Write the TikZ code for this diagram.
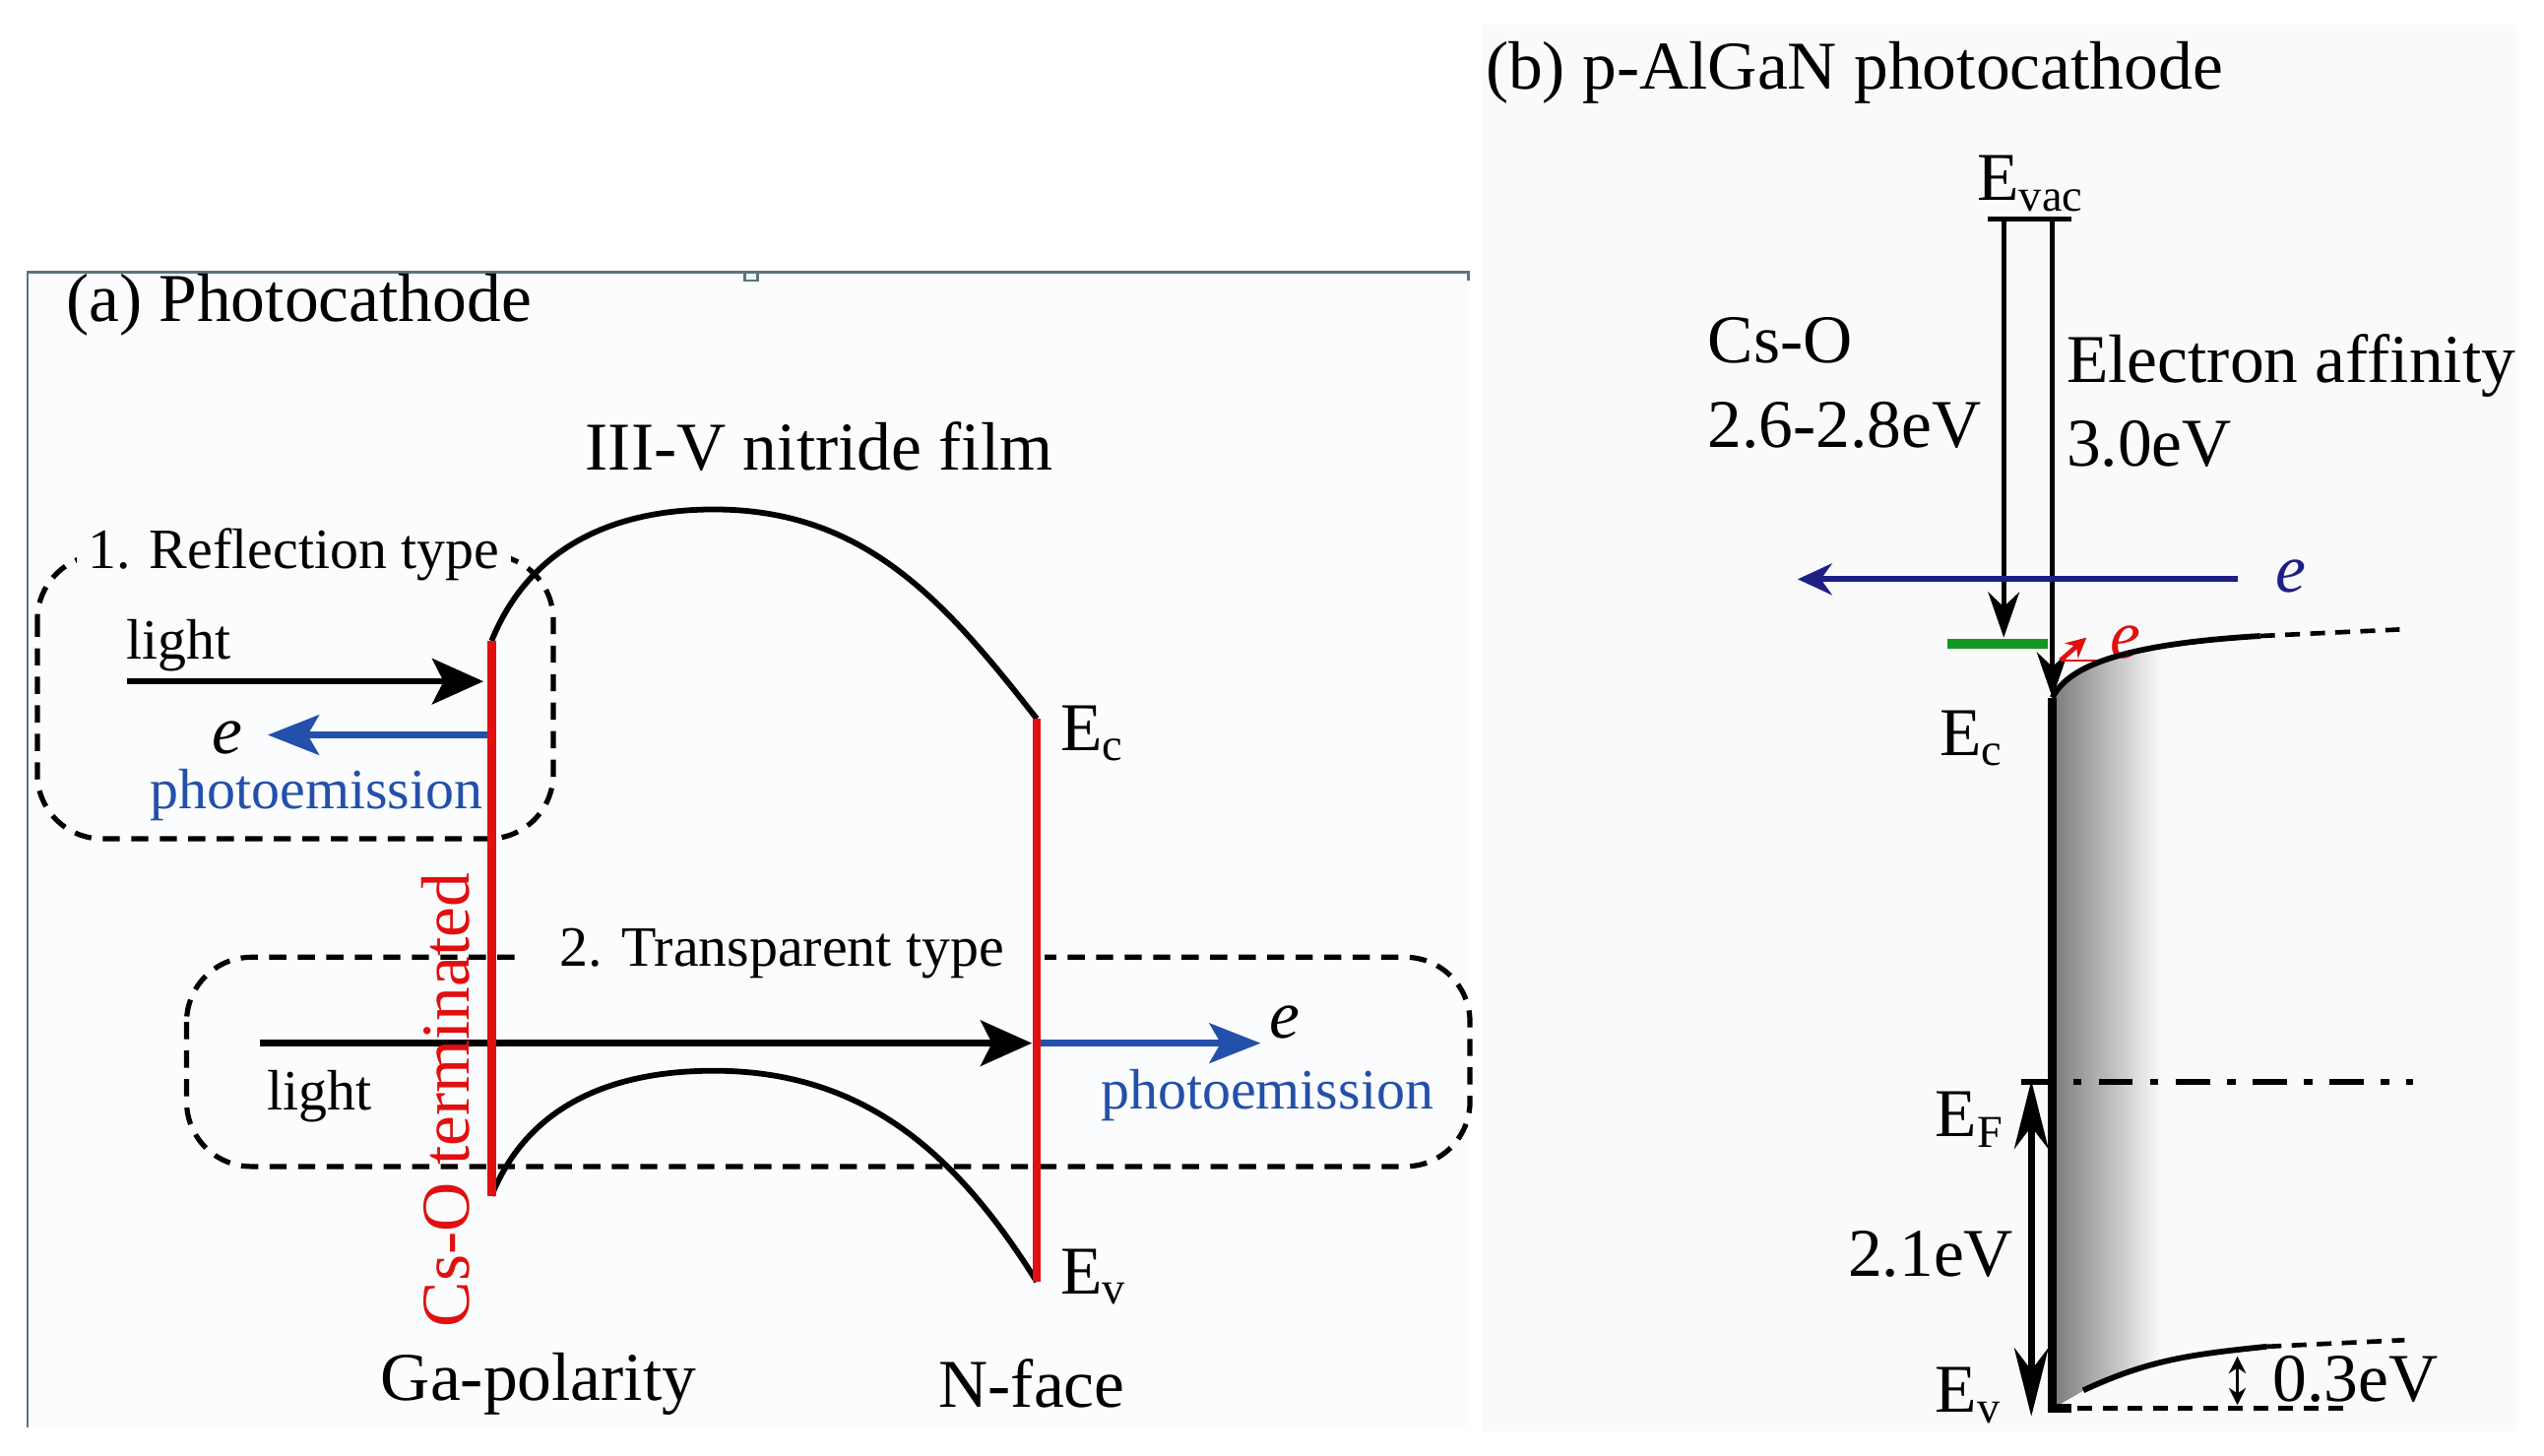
\documentclass[tikz,border=0pt]{standalone}
\usepackage{fontspec}
\setmainfont{Liberation Serif}
\usepackage{xcolor}
\usetikzlibrary{arrows.meta,positioning,calc}
\definecolor{framegray}{RGB}{95,115,125}
\definecolor{panelbg}{RGB}{251,252,253}
\definecolor{emblue}{RGB}{35,80,170}
\definecolor{navyblue}{RGB}{30,30,135}
\definecolor{termred}{RGB}{225,15,15}
\definecolor{levelgreen}{RGB}{20,150,35}

\begin{document}
\begin{tikzpicture}[
  big/.style={font=\fontsize{12}{14.8}\selectfont,inner sep=0pt},
  small/.style={font=\fontsize{10}{12}\selectfont,inner sep=0pt},
  elec/.style={font=\fontsize{12}{14}\selectfont\itshape,inner sep=0pt},
  band/.style={line width=1pt},
  interface/.style={line width=1.5pt,color=termred},
  typebox/.style={dash pattern=on 3pt off 2pt,line width=0.9pt,rounded corners=0.4cm},
  typelabel/.style={small,fill=panelbg,inner xsep=2pt,inner ysep=1pt},
  light/.style={-{Stealth[length=9pt,width=8pt,inset=2pt]},line width=1.1pt},
  emit/.style={-{Stealth[length=9pt,width=7pt,inset=2pt]},line width=1.1pt,color=emblue},
  thinarrow/.style={-{Stealth[length=8pt,width=5.5pt]},line width=0.8pt},
  level/.style={dash pattern=on 2.6pt off 1.8pt,line width=0.8pt},
  fermi/.style={dash pattern=on 6pt off 3pt on 1.5pt off 3pt,line width=1pt}
]
\useasboundingbox (0,0) rectangle (15.68,-8.97);

\fill[panelbg] (0.17,-1.68) rectangle (9.05,-8.80);
\fill[black!2] (9.13,-0.15) rectangle (15.51,-8.82);
\draw[framegray,line width=0.5pt] (0.17,-8.80) -- (0.17,-1.68) -- (9.05,-1.68) -- ++(0,-0.05);
\draw[framegray,line width=0.4pt,fill=cyan!8] (4.59,-1.68) rectangle (4.67,-1.73);

\node[big,anchor=west] (titleA) at (0.40,-1.88) {(a) Photocathode};
\node[big] (film) at (5.05,-2.75) {III-V nitride film};

\draw[typebox] (0.23,-3.42) rectangle (3.41,-5.17);
\node[typelabel] (reflType) at (1.81,-3.42) {1. Reflection type};
\draw[typebox] (1.15,-5.90) rectangle (9.06,-7.19);
\node[typelabel,inner xsep=0.25cm] (transType) at (4.82,-5.88) {2. Transparent type};

\coordinate (gaTop) at (3.03,-3.95);
\coordinate (gaBot) at (3.03,-7.37);
\coordinate (nTop) at (6.39,-4.43);
\coordinate (nBot) at (6.39,-7.90);
\coordinate (ecPeak) at (4.40,-3.14);
\coordinate (evPeak) at (4.40,-6.60);

\draw[band] (gaTop) to[out=68,in=180] (ecPeak) to[out=0,in=128] (nTop);
\draw[band] (gaBot) to[out=68,in=180] (evPeak) to[out=0,in=122] (nBot);

\coordinate (lightOne) at (0.78,-4.20);
\coordinate (lightOneEnd) at (2.98,-4.20);
\coordinate (emitOne) at (3.03,-4.53);
\coordinate (emitOneEnd) at (1.65,-4.53);
\coordinate (lightTwo) at (1.60,-6.43);
\coordinate (lightTwoEnd) at (6.36,-6.43);
\coordinate (emitTwo) at (6.39,-6.43);
\coordinate (emitTwoEnd) at (7.77,-6.43);

\draw[light] (lightOne) -- (lightOneEnd);
\draw[emit] (emitOne) -- (emitOneEnd);
\draw[light] (lightTwo) -- (lightTwoEnd);
\draw[emit] (emitTwo) -- (emitTwoEnd);

\node[small] (lightTxtOne) at (1.10,-3.98) {light};
\node[elec] (eOne) at (1.40,-4.55) {e};
\node[small,text=emblue] (photoOne) at (1.95,-4.90) {photoemission};
\node[small] (lightTxtTwo) at (1.97,-6.76) {light};
\node[elec] (eTwo) at (7.92,-6.30) {e};
\node[small,text=emblue] (photoTwo) at (7.81,-6.75) {photoemission};

\node[big,rotate=90,text=termred] (csoTerm) at (2.75,-6.78) {Cs-O terminated};
\draw[interface] (gaTop) -- (gaBot);
\draw[interface] (nTop) -- (nBot);

\node[big,anchor=west] (ecA) at (6.53,-4.52) {E\textsubscript{c}};
\node[big,anchor=west] (evA) at (6.53,-7.87) {E\textsubscript{v}};
\node[big] (gaPol) at (3.32,-8.53) {Ga-polarity};
\node[big] (nFace) at (6.36,-8.53) {N-face};

\node[big,anchor=west] (titleB) at (9.15,-0.45) {(b) p-AlGaN photocathode};
\node[big,anchor=south] (evac) at (12.52,-1.31) {E\textsubscript{vac}};
\coordinate (vacL) at (12.25,-1.35);
\coordinate (vacR) at (12.77,-1.35);
\coordinate (csTop) at (12.35,-1.35);
\coordinate (csEnd) at (12.35,-3.93);
\coordinate (eaTop) at (12.65,-1.35);
\coordinate (surfTop) at (12.65,-4.30);
\coordinate (surfBot) at (12.65,-8.68);
\coordinate (cbEnd) at (13.93,-3.92);
\coordinate (cbFar) at (14.79,-3.88);
\coordinate (vbStart) at (12.84,-8.57);
\coordinate (vbEnd) at (13.97,-8.30);
\coordinate (vbFar) at (14.82,-8.26);
\coordinate (bulkEv) at (14.44,-8.68);

\begin{scope}
  \clip (surfTop) .. controls (12.75,-4.10) and (13.10,-3.97) .. (cbEnd) -- (vbEnd) to[out=186,in=25] (vbStart) -- (surfBot) -- cycle;
  \fill[left color=black!52,right color=black!2] (12.65,-3.8) rectangle (13.32,-8.75);
\end{scope}

\draw[line width=0.8pt] (vacL) -- (vacR);
\draw[thinarrow] (csTop) -- (csEnd);
\draw[thinarrow] (eaTop) -- (surfTop);
\node[big,anchor=west,align=left] (csoB) at (10.52,-2.36) {Cs-O\\2.6-2.8eV};
\node[big,anchor=west,align=left] (affinity) at (12.73,-2.47) {Electron affinity\\3.0eV};

\coordinate (emitB) at (13.79,-3.57);
\coordinate (emitBEnd) at (11.08,-3.57);
\draw[-{Stealth[length=6pt,width=5.5pt]},line width=1pt,navyblue] (emitB) -- (emitBEnd);
\node[elec,text=navyblue] (eB) at (14.12,-3.55) {e};

\coordinate (greenL) at (12.00,-3.97);
\coordinate (greenR) at (12.62,-3.97);
\draw[levelgreen,line width=1.8pt] (greenL) -- (greenR);
\coordinate (hopStart) at (12.70,-4.07);
\coordinate (hopEnd) at (12.86,-3.93);
\draw[termred,line width=0.4pt] (hopStart) -- (13.00,-4.07);
\draw[termred,line width=0.8pt,-{Stealth[length=3.5pt,width=3.5pt]}] (hopStart) -- (hopEnd);
\node[elec,text=termred] (eHop) at (13.10,-3.96) {e};

\draw[band] (surfTop) .. controls (12.75,-4.10) and (13.10,-3.97) .. (cbEnd);
\draw[level] (cbEnd) -- (cbFar);
\draw[line width=1.5pt] (surfTop) -- (surfBot) -- ++(0.12,0);
\draw[level] (surfBot) -- (bulkEv);
\draw[band] (vbStart) to[out=25,in=186] (vbEnd);
\draw[level] (vbEnd) -- (vbFar);

\coordinate (fermiL) at (12.46,-6.67);
\coordinate (fermiR) at (14.87,-6.67);
\draw[fermi] (fermiL) -- (fermiR);
\coordinate (gapTop) at (12.52,-6.66);
\coordinate (gapBot) at (12.52,-8.73);
\draw[{Stealth[length=12pt,width=6pt]}-{Stealth[length=12pt,width=6pt]},line width=1.2pt] (gapTop) -- (gapBot);
\coordinate (bendTop) at (13.79,-8.36);
\coordinate (bendBot) at (13.79,-8.66);
\draw[{Stealth[length=3pt,width=3pt]}-{Stealth[length=3pt,width=3pt]},line width=0.5pt] (bendTop) -- (bendBot);

\node[big,anchor=west] (ecB) at (11.95,-4.55) {E\textsubscript{c}};
\node[big,anchor=west] (efB) at (11.92,-6.90) {E\textsubscript{F}};
\node[big] (gapTxt) at (11.90,-7.73) {2.1eV};
\node[big,anchor=west] (evB) at (11.92,-8.60) {E\textsubscript{v}};
\node[big,anchor=west] (bendTxt) at (14.00,-8.50) {0.3eV};
\end{tikzpicture}
\end{document}
